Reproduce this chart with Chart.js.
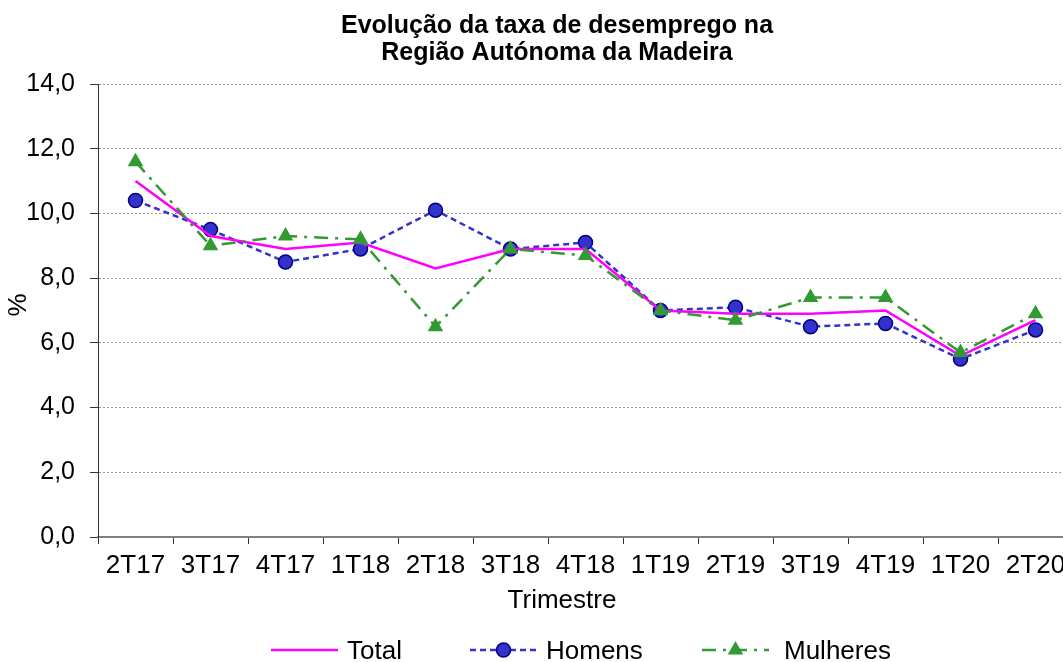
<!DOCTYPE html>
<html>
<head>
<meta charset="utf-8">
<script src="https://cdn.jsdelivr.net/npm/chart.js@4.4.1/dist/chart.umd.min.js"></script>
<style>
  html, body { margin: 0; padding: 0; background: #fff; overflow: hidden; }
  #wrap { position: absolute; left: 0; top: 0; width: 1082px; height: 662px; }
</style>
</head>
<body>
<div id="wrap"><canvas id="c" width="1082" height="662"></canvas></div>
<script>
const categories = ['2T17','3T17','4T17','1T18','2T18','3T18','4T18','1T19','2T19','3T19','4T19','1T20','2T20'];
const total    = [11.0, 9.3, 8.9, 9.1, 8.3, 8.9, 8.9, 7.0, 6.9, 6.9, 7.0, 5.6, 6.7];
const homens   = [10.4, 9.5, 8.5, 8.9, 10.1, 8.9, 9.1, 7.0, 7.1, 6.5, 6.6, 5.5, 6.4];
const mulheres = [11.6, 9.0, 9.3, 9.2, 6.5, 8.9, 8.7, 7.0, 6.7, 7.4, 7.4, 5.7, 6.9];
const seriesNames = ['Total', 'Homens', 'Mulheres'];
const titleLines = ['Evolução da taxa de desemprego na', 'Região Autónoma da Madeira'];
const xTitle = 'Trimestre';
const yTitle = '%';

const FONT = '"Liberation Sans", Arial, sans-serif';

const textPlugin = {
  id: 'texts',
  afterDraw(chart) {
    const ctx = chart.ctx;
    ctx.save();
    ctx.fillStyle = '#000';
    // title
    ctx.font = 'bold 25px ' + FONT;
    ctx.textAlign = 'center';
    ctx.textBaseline = 'alphabetic';
    ctx.fillText(titleLines[0], 557, 33);
    ctx.fillText(titleLines[1], 557, 60);
    // axis titles
    ctx.font = '26px ' + FONT;
    ctx.fillText(xTitle, 562, 608);
    ctx.save();
    ctx.translate(26, 305);
    ctx.rotate(-Math.PI / 2);
    ctx.fillText(yTitle, 0, 0);
    ctx.restore();
    // legend
    const starts = [271, 470, 702];
    const ly = 650;
    chart.data.datasets.forEach((ds, i) => {
      const x0 = starts[i], x1 = x0 + 67;
      ctx.save();
      ctx.strokeStyle = ds.borderColor;
      ctx.lineWidth = ds.borderWidth;
      ctx.setLineDash(ds.borderDash || []);
      ctx.beginPath();
      ctx.moveTo(x0, ly);
      ctx.lineTo(x1, ly);
      ctx.stroke();
      ctx.restore();
      if (ds.pointRadius > 0) {
        const cx = (x0 + x1) / 2, r = ds.pointRadius;
        ctx.save();
        ctx.fillStyle = ds.pointBackgroundColor;
        ctx.strokeStyle = ds.pointBorderColor;
        ctx.lineWidth = ds.pointBorderWidth;
        ctx.setLineDash([]);
        ctx.beginPath();
        if (ds.pointStyle === 'circle') {
          ctx.arc(cx, ly, r, 0, Math.PI * 2);
        } else {
          ctx.moveTo(cx, ly - r);
          ctx.lineTo(cx + r * Math.sin(2 * Math.PI / 3), ly - r * Math.cos(2 * Math.PI / 3));
          ctx.lineTo(cx + r * Math.sin(4 * Math.PI / 3), ly - r * Math.cos(4 * Math.PI / 3));
          ctx.closePath();
        }
        ctx.fill();
        if (ds.pointBorderWidth) ctx.stroke();
        ctx.restore();
      }
      ctx.fillStyle = '#000';
      ctx.font = '26px ' + FONT;
      ctx.textAlign = 'left';
      ctx.textBaseline = 'alphabetic';
      ctx.fillText(ds.label, x1 + 9 + (i === 2 ? 6 : 0), 659);
    });
    ctx.restore();
  }
};

new Chart(document.getElementById('c'), {
  type: 'line',
  data: {
    labels: categories,
    datasets: [
      {
        label: seriesNames[0], data: total, order: 2,
        borderColor: '#FF00FF', backgroundColor: '#FF00FF', borderWidth: 2.5,
        pointRadius: 0, pointHoverRadius: 0, tension: 0, fill: false
      },
      {
        label: seriesNames[1], data: homens, order: 3,
        borderColor: '#3333CC', backgroundColor: '#3333CC', borderWidth: 2.5, borderDash: [6, 4],
        pointStyle: 'circle', pointRadius: 7, pointBorderWidth: 1.5,
        pointBackgroundColor: '#3333CC', pointBorderColor: '#000080', tension: 0, fill: false
      },
      {
        label: seriesNames[2], data: mulheres, order: 1,
        borderColor: '#339933', backgroundColor: '#339933', borderWidth: 2.5, borderDash: [14, 7, 3, 7],
        pointStyle: 'triangle', pointRadius: 9, pointBorderWidth: 0,
        pointBackgroundColor: '#339933', pointBorderColor: '#339933', tension: 0, fill: false
      }
    ]
  },
  options: {
    responsive: false,
    animation: false,
    events: [],
    layout: { padding: { top: 84, left: 0, right: 3, bottom: 0 } },
    plugins: { legend: { display: false }, title: { display: false }, tooltip: { enabled: false } },
    scales: {
      x: {
        type: 'category',
        offset: true,
        afterFit(s) { s.height = 125; },
        grid: { offset: true, drawOnChartArea: false, drawTicks: true, tickLength: 7, tickColor: '#333', tickWidth: 1 },
        border: { display: true, color: '#808080', width: 2 },
        ticks: { color: '#000', font: { family: FONT, size: 26 }, padding: 6, maxRotation: 0, autoSkip: false }
      },
      y: {
        min: 0, max: 14,
        afterFit(s) { s.width = 98; },
        grid: { color: '#9a9a9a', lineWidth: 1, tickLength: 8, tickColor: '#333', tickWidth: 1 },
        border: { display: true, color: '#333', width: 1, dash: [2, 2] },
        ticks: {
          stepSize: 2, color: '#000', font: { family: FONT, size: 25 }, padding: 15,
          callback: v => v.toFixed(1).replace('.', ',')
        }
      }
    }
  },
  plugins: [textPlugin]
});
</script>
</body>
</html>
